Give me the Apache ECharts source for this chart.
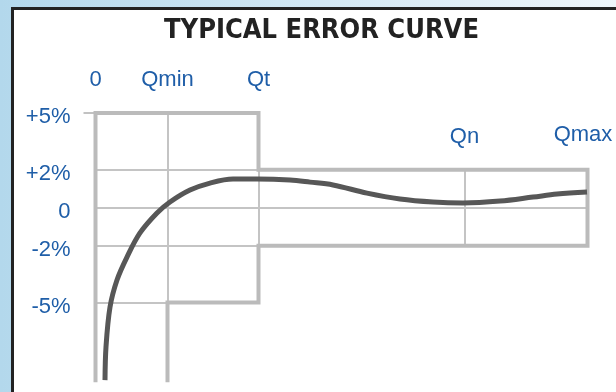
<!DOCTYPE html>
<html>
<head>
<meta charset="utf-8">
<script src="https://cdn.jsdelivr.net/npm/echarts@6/dist/echarts.min.js"></script>
<style>
  html, body { margin: 0; padding: 0; }
  #wrap { position: relative; width: 616px; height: 392px; overflow: hidden;
          background: linear-gradient(to right, #b3d8ec 0%, #cfe6f3 45%, #eef5fa 100%); }
  #panel { position: absolute; left: 11px; top: 7px; width: 640px; height: 420px;
           background: #fff; border-left: 3px solid #222; border-top: 3px solid #222; }
  #main { position: absolute; left: 0; top: 0; width: 616px; height: 392px; }
</style>
</head>
<body>
<div id="wrap"><div id="panel"></div><div id="main"></div></div>
<script>
// flow marks (x position on the schematic axis)
var Q0 = 0, Qmin = 72, Qt = 163, Qn = 369, Qmax = 492;
var yBottom = -9.2;

var topTickValues = [Q0, Qmin, Qt];
var topTickNames = ['0', 'Qmin', 'Qt'];

var errTicks = [5, 2, 0, -2, -5];
var errNames = ['+5%', '+2%', '0', '-2%', '-5%'];

// Qn / Qmax labels above the +2% box
var sideNames = ['Qn', 'Qmax'];
var sidePoints = [[Qn, 3.73], [487.5, 3.83]];

// typical error curve
var curveX = [9.5, 10.5, 14.5, 21.5, 31.5, 44.5, 61.5, 74.5, 94.5, 114.5, 137.5, 161.5,
              194.5, 214.5, 237.5, 271.5, 304.5, 337.5, 367.5, 404.5, 437.5, 461.5, 491.5];
var curveY = [-9.09, -7.34, -5.24, -3.81, -2.6, -1.33, -0.28, 0.3, 0.93, 1.3, 1.51, 1.51,
              1.46, 1.35, 1.2, 0.77, 0.46, 0.3, 0.25, 0.35, 0.56, 0.72, 0.83];

var curve = curveX.map(function (x, i) { return [x, curveY[i]]; });

// max permissible error envelope (thick)
var envelope = [[Q0, yBottom], [Q0, 5], [Qt, 5], [Qt, 2], [Qmax, 2], [Qmax, -2],
                [Qt, -2], [Qt, -5], [Qmin, -5], [Qmin, yBottom]];

// thin guide lines
var guides = [
  [[Qmin, 5], [Qmin, -5]],
  [[Qt, 2], [Qt, -2]],
  [[Qn, 2], [Qn, -2]],
  [[-22, 2], [Qt, 2]],
  [[-22, 0], [Qmax, 0]],
  [[-22, -2], [Qt, -2]],
  [[-22, -5], [Qmin, -5]]
];

var blue = '#1f5ea8';
var labelFont = "'Liberation Sans', Arial, sans-serif";
var chart = echarts.init(document.getElementById('main'));

chart.setOption({
  animation: false,
  backgroundColor: 'transparent',
  title: {
    text: 'TYPICAL ERROR CURVE',
    left: 164,
    top: 17,
    padding: 0,
    textStyle: {
      fontFamily: "'Liberation Sans Narrow', 'DejaVu Sans Condensed', sans-serif",
      fontWeight: 'bold',
      fontSize: 27,
      color: '#222'
    }
  },
  grid: {
    left: 95.5, right: 20.5, top: 107.2, bottom: 9.8,
    containLabel: false, outerBoundsMode: 'none'
  },
  xAxis: {
    type: 'value',
    position: 'top',
    min: 0,
    max: 500,
    offset: 6,
    axisLine: { show: false },
    splitLine: { show: false },
    axisTick: {
      show: true, length: 12, customValues: topTickValues,
      lineStyle: { color: '#c2c2c2', width: 2 }
    },
    axisLabel: {
      customValues: topTickValues,
      margin: 10,
      color: blue,
      fontSize: 22,
      fontFamily: labelFont,
      formatter: function (v) { return topTickNames[topTickValues.indexOf(v)]; }
    }
  },
  yAxis: {
    type: 'value',
    min: yBottom,
    max: 5.3,
    offset: 10,
    axisLine: { show: false },
    splitLine: { show: false },
    axisTick: {
      show: true, length: 12, customValues: [5],
      lineStyle: { color: '#c2c2c2', width: 2 }
    },
    axisLabel: {
      customValues: errTicks,
      margin: 15,
      color: blue,
      fontSize: 22,
      verticalAlign: 'top',
      lineHeight: 8,
      fontFamily: labelFont,
      formatter: function (v) { return errNames[errTicks.indexOf(v)]; }
    }
  },
  series: [
    {
      type: 'lines',
      coordinateSystem: 'cartesian2d',
      z: 1,
      silent: true,
      lineStyle: { color: '#c4c4c4', width: 2, opacity: 1 },
      data: guides.map(function (g) { return { coords: g }; })
    },
    {
      type: 'lines',
      coordinateSystem: 'cartesian2d',
      polyline: true,
      z: 2,
      silent: true,
      lineStyle: { color: '#bbbbbb', width: 4, opacity: 1, join: 'miter', cap: 'butt' },
      data: [{ coords: envelope }]
    },
    {
      type: 'line',
      z: 5,
      data: curve,
      smooth: 0.35,
      showSymbol: false,
      clip: false,
      lineStyle: { color: '#575757', width: 5, cap: 'butt' }
    },
    {
      type: 'scatter',
      symbolSize: 0,
      data: sidePoints,
      itemStyle: { opacity: 1 },
      label: {
        show: true,
        position: 'inside',
        color: blue,
        fontSize: 22,
        fontFamily: labelFont,
        formatter: function (p) { return sideNames[p.dataIndex]; }
      }
    }
  ]
});
</script>
</body>
</html>
